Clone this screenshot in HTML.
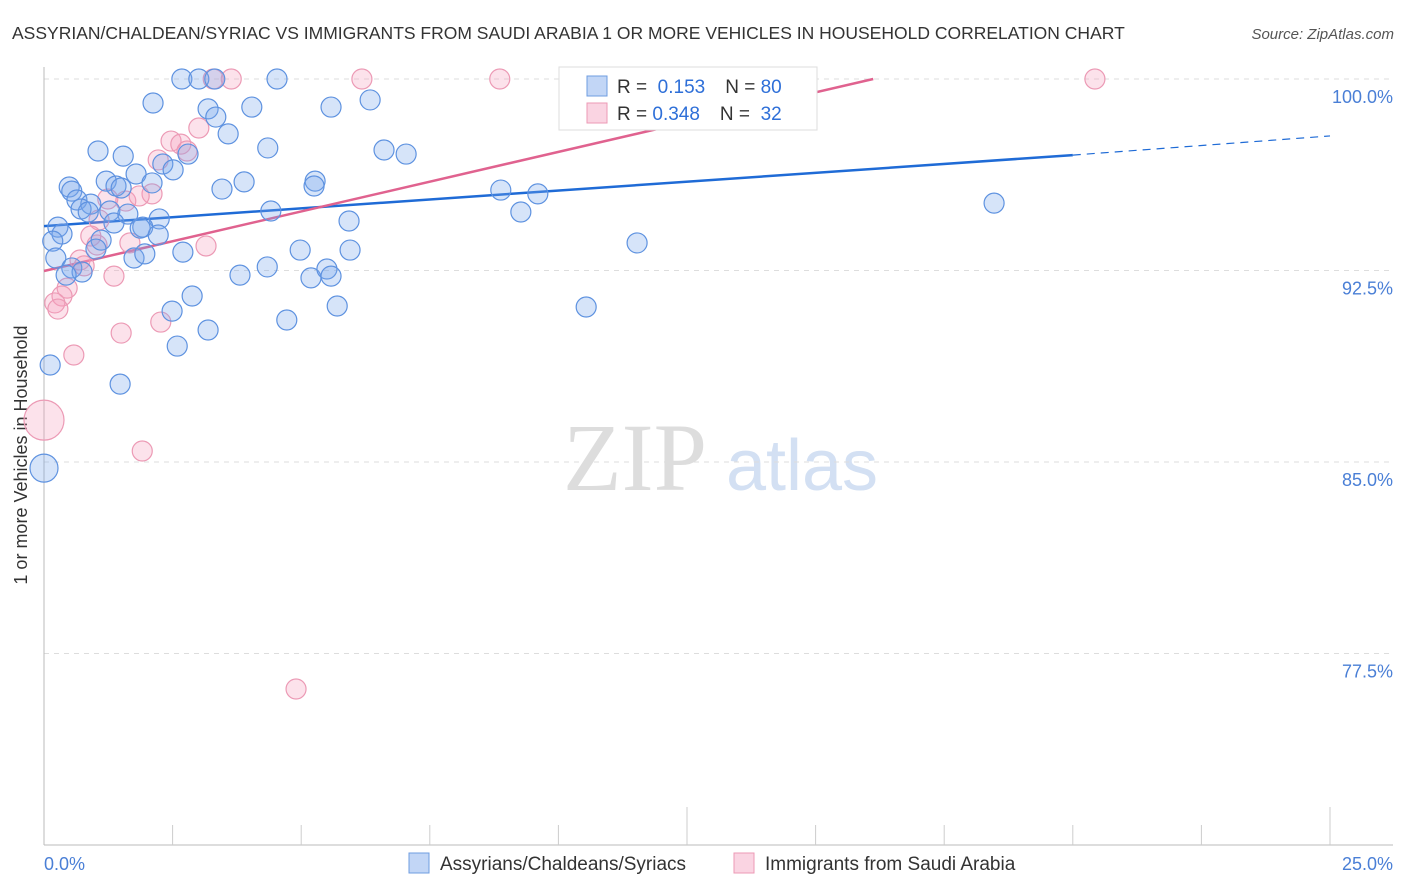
<!DOCTYPE html>
<html><head><meta charset="utf-8"><style>
body{margin:0;background:#fff;font-family:"Liberation Sans",sans-serif}
svg{display:block}
</style></head><body>
<svg id="c" width="1406" height="892" xmlns="http://www.w3.org/2000/svg">
<text x="12" y="39" font-size="17.5" fill="#333">ASSYRIAN/CHALDEAN/SYRIAC VS IMMIGRANTS FROM SAUDI ARABIA 1 OR MORE VEHICLES IN HOUSEHOLD CORRELATION CHART</text>
<text x="1394" y="39" font-size="15" fill="#555" font-style="italic" text-anchor="end">Source: ZipAtlas.com</text>
<text x="27" y="455" font-size="18" fill="#333" text-anchor="middle" transform="rotate(-90 27 455)">1 or more Vehicles in Household</text>
<g><text x="635" y="490" font-size="96" fill="#ddd" font-family="Liberation Serif,serif" text-anchor="middle">ZIP</text><text x="802" y="490" font-size="72" fill="#d3e0f3" text-anchor="middle">atlas</text></g>
<g id="grid"></g><g id="axes"></g><g id="lines"></g><g id="pts"></g>
<g>
<rect x="559" y="67" width="258" height="63" fill="#fff" stroke="#ddd"/>
<rect x="587" y="76" width="20" height="20" fill="rgba(120,165,235,0.45)" stroke="#6f9de0"/>
<rect x="587" y="103" width="20" height="20" fill="rgba(245,160,190,0.45)" stroke="#ec9ab5"/>
<text x="617" y="93" font-size="19" fill="#333">R = <tspan fill="#2e6fd8">&#160;0.153</tspan><tspan dx="20">N = </tspan><tspan fill="#2e6fd8">80</tspan></text>
<text x="617" y="120" font-size="19" fill="#333">R = <tspan fill="#2e6fd8">0.348</tspan><tspan dx="20">N = </tspan><tspan fill="#2e6fd8">&#160;32</tspan></text>
</g>
<g>
<rect x="409" y="853" width="20" height="20" fill="rgba(120,165,235,0.45)" stroke="#6f9de0"/>
<text x="440" y="870" font-size="19" fill="#333">Assyrians/Chaldeans/Syriacs</text>
<rect x="734" y="853" width="20" height="20" fill="rgba(245,160,190,0.45)" stroke="#ec9ab5"/>
<text x="765" y="870" font-size="19" fill="#333">Immigrants from Saudi Arabia</text>
</g>
</svg>
<script>
const yTicks=[100,92.5,85,77.5];
const yTickLabels=["100.0%","92.5%","85.0%","77.5%"];
const xTickLabels=["0.0%","25.0%"];
const blueX=[2.68,3.01,3.32,4.53,2.12,3.19,4.04,5.58,6.34,3.34,3.58,1.05,1.54,4.35,6.61,7.04,2.80,2.31,2.51,0.49,0.54,1.21,1.40,1.50,1.79,2.10,3.89,3.46,5.27,5.25,8.88,9.60,0.64,0.91,0.72,0.86,1.28,1.63,2.24,4.41,9.27,5.93,18.47,0.27,0.35,1.36,1.92,2.22,0.17,1.11,1.01,1.75,1.96,2.70,4.98,5.95,11.53,0.23,0.54,0.74,0.43,3.81,4.34,5.19,5.50,5.58,2.88,2.49,5.70,10.54,4.72,3.19,2.59,0.12,1.48,0,1.87];
const blueY=[100,100,100,100,99.06,98.83,98.90,98.90,99.18,98.51,97.85,97.18,96.98,97.30,97.22,97.06,97.06,96.67,96.44,95.77,95.61,96.00,95.81,95.73,96.28,95.93,95.97,95.69,96.00,95.81,95.65,95.50,95.26,95.10,94.91,94.79,94.83,94.71,94.52,94.83,94.79,94.44,95.14,94.20,93.93,94.36,94.20,93.89,93.65,93.69,93.34,92.99,93.15,93.22,93.30,93.30,93.58,92.99,92.60,92.44,92.32,92.32,92.64,92.21,92.56,92.28,91.50,90.91,91.11,91.07,90.56,90.17,89.54,88.80,88.05,84.76,94.16];
const pinkX=[3.29,3.64,6.18,8.86,20.43,3.01,2.47,2.66,2.78,2.22,1.24,1.59,2.10,1.85,1.07,0.91,1.03,1.67,3.15,0.70,0.78,1.36,0.45,0.35,0.21,0.27,2.27,1.50,0.58,0,1.91,4.90];
const pinkY=[100,100,100,100,100,98.08,97.57,97.45,97.18,96.83,95.30,95.22,95.50,95.42,94.48,93.85,93.50,93.58,93.46,92.91,92.68,92.28,91.81,91.50,91.23,90.99,90.48,90.05,89.19,86.64,85.43,76.11];
const blueSize=[]; blueSize[75]=1.4;
const pinkSize=[]; pinkSize[29]=2;
const blueFit=[[0,94.24],[20,97.02],[25,97.77]];
const pinkFit=[[0,92.48],[16.12,100]];
const X0=44,X1=1330,Y0=845;
const sx=v=>X0+v/25*(X1-X0);
const sy=v=>Y0-(v-70)/30*(Y0-79);
const NS="http://www.w3.org/2000/svg";
function mk(tag,attrs,parent){const e=document.createElementNS(NS,tag);for(const k in attrs)e.setAttribute(k,attrs[k]);document.getElementById(parent).appendChild(e);return e;}
yTicks.forEach((t,i)=>{
 const g=mk('line',{x1:X0,x2:1393,y1:sy(t),y2:sy(t),stroke:'#ddd','stroke-dasharray':'5,5'},'grid');
 
 
 const l=mk('text',{x:1393,y:sy(t)+24,'font-size':18,fill:'#4a7fd6','text-anchor':'end'},'grid');
 l.textContent=yTickLabels[i];
 
 
});
const ax=mk('line',{x1:X0,x2:1393,y1:Y0,y2:Y0,stroke:'#bbb'},'axes');


const ay=mk('line',{x1:X0,x2:X0,y1:67,y2:Y0,stroke:'#bbb'},'axes');


for(let i=1;i<=10;i++){const v=i*2.5;const tk=mk('line',{x1:sx(v),x2:sx(v),y1:Y0,y2:Y0-(i%5==0?38:20),stroke:'#ccc'},'axes');
 
 }
[[0,'start'],[25,'end']].forEach((p,i)=>{const t=mk('text',{x:i?1393:44,y:870,'font-size':18,fill:'#4a7fd6','text-anchor':p[1]},'axes');t.textContent=xTickLabels[i];
 
 });
function pts(xs,ys,sz,fill,stroke,name){xs.forEach((x,i)=>{const c=mk('circle',{cx:sx(x),cy:sy(ys[i]),r:10*(sz[i]||1),fill:fill,stroke:stroke,'stroke-width':1.2},'pts');
 
 });}
pts(pinkX,pinkY,pinkSize,'rgba(245,160,190,0.3)','#ec9ab5','pink-point');
pts(blueX,blueY,blueSize,'rgba(120,165,235,0.3)','#5e92e0','blue-point');
const b1=mk('line',{x1:sx(blueFit[0][0]),y1:sy(blueFit[0][1]),x2:sx(blueFit[1][0]),y2:sy(blueFit[1][1]),stroke:'#1f6bd6','stroke-width':2.5},'lines');


const b2=mk('line',{x1:sx(blueFit[1][0]),y1:sy(blueFit[1][1]),x2:sx(blueFit[2][0]),y2:sy(blueFit[2][1]),stroke:'#1f6bd6','stroke-width':1.2,'stroke-dasharray':'8,6'},'lines');


const p1=mk('line',{x1:sx(pinkFit[0][0]),y1:sy(pinkFit[0][1]),x2:sx(pinkFit[1][0]),y2:sy(pinkFit[1][1]),stroke:'#e0628f','stroke-width':2.5},'lines');


</script>
</body></html>
